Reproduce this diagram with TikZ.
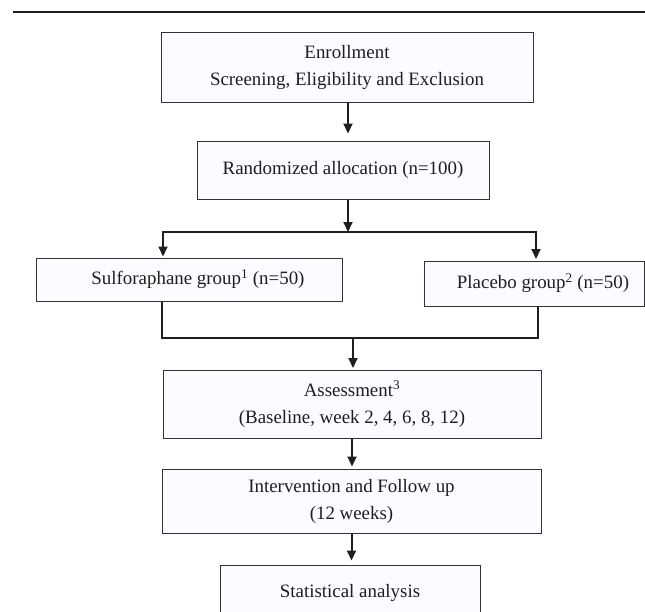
\documentclass[tikz,border=0pt]{standalone}
\usepackage{fontspec}
\setmainfont{Liberation Serif}
\usetikzlibrary{arrows.meta}
\definecolor{boxfill}{RGB}{251,252,255}
\definecolor{ink}{RGB}{30,30,30}
\begin{document}
\begin{tikzpicture}[x=1pt,y=-1pt,
  box/.style={draw=black!80, line width=1pt, fill=boxfill, inner sep=0pt, align=center,
              font=\fontsize{18.9}{27}\selectfont, text=ink},
  link/.style={line width=2pt, draw=ink},
  arr/.style={link, -{Triangle[length=10pt,width=9pt]}}]
\clip (0,0) rectangle (645,611);
% top rule
\draw[line width=2pt, draw=ink] (13,12) -- (645,12);
% nodes
\node[box, minimum width=372pt, minimum height=70pt] (enr) at (347,67) {Enrollment\\Screening, Eligibility and Exclusion};
\node[box, minimum width=292pt, minimum height=58pt] (ran) at (343,170) {Randomized allocation (n=100)};
\node[box, minimum width=306pt, minimum height=43pt] (sul) at (189,279.5) {\hspace*{18pt}Sulforaphane group\textsuperscript{1} (n=50)};
\node[box, minimum width=220pt, minimum height=45pt] (pla) at (534,283.5) {\hspace*{18pt}Placebo group\textsuperscript{2} (n=50)};
\node[box, minimum width=378pt, minimum height=68pt] (ass) at (352,404) {Assessment\textsuperscript{3}\\(Baseline, week 2, 4, 6, 8, 12)};
\node[box, minimum width=379pt, minimum height=64pt] (int) at (351.5,501) {Intervention and Follow up\\(12 weeks)};
\node[box, minimum width=260pt, minimum height=56pt] (sta) at (350,593) {Statistical analysis};
% coordinates
\coordinate (brL) at (163,232);
\coordinate (brR) at (536,232);
\coordinate (brM) at (348,232);
\coordinate (mgL) at (162,338);
\coordinate (mgR) at (538,338);
\coordinate (mgM) at (353,338);
% connectors
\draw[arr, shorten >=7pt] ([xshift=1pt]enr.south) -- ([xshift=1pt]enr.south |- ran.north);
\draw[arr] ([xshift=5pt]ran.south) -- (brM);
\draw[arr, shorten >=1pt] (brM) -| (brL |- sul.north);
\draw[arr, shorten >=1.5pt] (brM) -| (brR |- pla.north);
\draw[link] (sul.south -| mgL) -- (mgL) -- (mgR) -- (pla.south -| mgR);
\draw[arr, shorten >=1.5pt] (mgM) -- (mgM |- ass.north);
\draw[arr, shorten >=2pt] (ass.south) -- (ass.south |- int.north);
\draw[arr, shorten >=4pt] (int.south) -- (int.south |- sta.north);
\end{tikzpicture}
\end{document}
